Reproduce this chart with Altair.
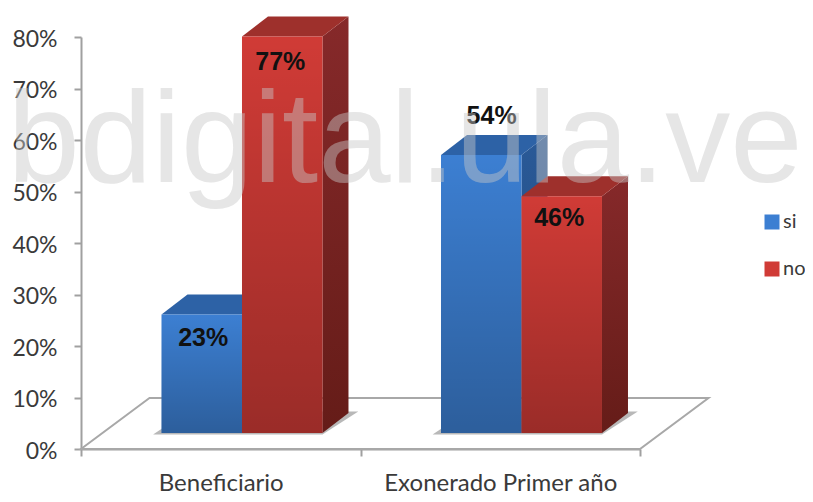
import altair as alt
import pandas as pd

categories = ["Beneficiario", "Exonerado Primer año"]
series = ["si", "no"]
si_values = [23, 54]
no_values = [77, 46]
percent_ticks = [0, 10, 20, 30, 40, 50, 60, 70, 80]
watermark = "bdigital.ula.ve"

# layout of the pseudo-3D scene, in axis units
BASE = 3.1
DX = 0.093
DY = 3.88
BAR_W = 0.288
START = 0.288
FLOOR_DX = 0.245
FLOOR_DY = 9.9
PW, PH = 559, 412

FRONT = {"si": "#3c7fd2", "no": "#d03b36"}
TOP = {"si": "#2d62a6", "no": "#9e302c"}
SIDE = {"si": ("#2a5a98", "#1f4678"), "no": ("#86292a", "#651c18")}
LABEL_SHIFT = {("si", 0): (0.005, -4.6), ("no", 0): (-0.007, -5.0), ("si", 1): (0.037, 7.6), ("no", 1): (-0.009, -4.3)}

rows = []
for s, vals in zip(series, [si_values, no_values]):
    for i, (c, v) in enumerate(zip(categories, vals)):
        x0 = i + START + series.index(s) * BAR_W
        rows.append(dict(series=s, cat=c, i=i, v=v, x0=x0, x1=x0 + BAR_W, y0=BASE, y1=BASE + v,
                         lx=x0 + BAR_W / 2 + LABEL_SHIFT[(s, i)][0], ly=BASE + v + LABEL_SHIFT[(s, i)][1],
                         label=f"{v}%"))
bars = pd.DataFrame(rows)

xs = alt.Scale(domain=[0, 2], nice=False, zero=False)
ys = alt.Scale(domain=[0, 80], nice=False, zero=False)
label_expr = f"datum.value == 0.5 ? '{categories[0]}' : datum.value == 1.5 ? '{categories[1]}' : ''"
x_axis = alt.Axis(values=[0, 0.5, 1, 1.5, 2], title=None, grid=False, labelExpr=label_expr, labelOverlap=False,
                  labelAngle=0, labelBound=False, labelFlush=False, labelLimit=400, tickSize=7, tickWidth=2, tickColor="#a0a0a0", domainColor="#a0a0a0", domainWidth=2,
                  labelFont="Lato", labelFontSize=24, labelColor="#3a3a3a", labelPadding=15,
                  tickOpacity={"condition": {"test": "datum.value == 0.5 || datum.value == 1.5", "value": 0}, "value": 1})
y_axis = alt.Axis(values=percent_ticks, title=None, grid=False, format="d", labelExpr="datum.value + '%'",
                  tickSize=7, tickWidth=2, tickColor="#a0a0a0", domainColor="#a0a0a0", domainWidth=2,
                  labelFont="Lato", labelFontSize=23, labelColor="#3a3a3a", labelPadding=17, labelOffset=2)

floor = pd.DataFrame([dict(x=0, x2=2, y=0, k=0), dict(x=FLOOR_DX, x2=2 + FLOOR_DX, y=FLOOR_DY, k=1)])
floor_layer = alt.Chart(floor).mark_area(orient="horizontal", fill="white", stroke="#a8a8a8", strokeWidth=2).encode(
    x=alt.X("x:Q", scale=xs, axis=x_axis), x2="x2:Q", y=alt.Y("y:Q", scale=ys, axis=y_axis))

shadow_rows = []
for _, r in bars[bars.series == "si"].iterrows():
    end = r.x0 + 2 * BAR_W
    shadow_rows += [dict(i=r.i, x=r.x0 - 0.03, x2=end, y=BASE - 0.3),
                    dict(i=r.i, x=r.x0 + DX, x2=end + DX + 0.035, y=BASE + DY + 0.3)]
shadow_layer = alt.Chart(pd.DataFrame(shadow_rows)).mark_area(orient="horizontal", color="#9a9a9a", opacity=0.7).encode(
    x=alt.X("x:Q", scale=xs), x2="x2:Q", y=alt.Y("y:Q", scale=ys), detail="i:N")


def grad(a, b):
    return alt.LinearGradient(gradient="linear", x1=0, y1=0, x2=0, y2=1,
                              stops=[alt.GradientStop(color=a, offset=0), alt.GradientStop(color=b, offset=1)])


layers = [floor_layer, shadow_layer]
color = alt.Color("series:N", scale=alt.Scale(domain=series, range=[FRONT[s] for s in series]),
                  legend=alt.Legend(title=None, orient="none", legendX=681, legendY=175, symbolType="square", symbolSize=225,
                                    symbolStrokeWidth=0, labelFont="Lato", labelFontSize=20, labelColor="#3a3a3a",
                                    rowPadding=27, labelOffset=1, padding=0))
for s in series:
    d = bars[bars.series == s]
    side, top = [], []
    for _, r in d.iterrows():
        side += [dict(i=r.i, x=r.x1, y=r.y0, y2=r.y1), dict(i=r.i, x=r.x1 + DX, y=r.y0 + DY, y2=r.y1 + DY)]
        top += [dict(i=r.i, x=r.x0, x2=r.x1, y=r.y1), dict(i=r.i, x=r.x0 + DX, x2=r.x1 + DX, y=r.y1 + DY)]
    layers.append(alt.Chart(pd.DataFrame(side)).mark_area(orient="vertical", color=grad(*SIDE[s])).encode(
        x=alt.X("x:Q", scale=xs), y=alt.Y("y:Q", scale=ys), y2="y2:Q", detail="i:N"))
    layers.append(alt.Chart(pd.DataFrame(top)).mark_area(orient="horizontal", color=TOP[s]).encode(
        x=alt.X("x:Q", scale=xs), x2="x2:Q", y=alt.Y("y:Q", scale=ys), detail="i:N"))
    layers.append(alt.Chart(d).mark_rect().encode(
        x=alt.X("x0:Q", scale=xs), x2="x1:Q", y=alt.Y("y0:Q", scale=ys), y2="y1:Q", color=color))
    layers.append(alt.Chart(d).mark_rect(color=alt.LinearGradient(
        gradient="linear", x1=0, y1=0, x2=0, y2=1,
        stops=[alt.GradientStop(color="rgba(0,0,0,0)", offset=0), alt.GradientStop(color="rgba(0,0,0,0.26)", offset=1)])).encode(
        x=alt.X("x0:Q", scale=xs), x2="x1:Q", y=alt.Y("y0:Q", scale=ys), y2="y1:Q"))

labels = alt.Chart(bars).mark_text(font="Liberation Sans", fontWeight="bold", fontSize=25, color="#111111").encode(
    x=alt.X("lx:Q", scale=xs), y=alt.Y("ly:Q", scale=ys), text="label:N")
layers.append(labels)

wm = alt.Chart(pd.DataFrame([dict(x=1.159, y=51.85, t=watermark)])).mark_text(
    font="Liberation Sans", fontSize=130, color="#c8c8c8", opacity=0.45, baseline="alphabetic", align="center").encode(
    x=alt.X("x:Q", scale=xs), y=alt.Y("y:Q", scale=ys), text="t:N")
layers.append(wm)

chart = alt.layer(*layers).properties(
    width=PW, height=PH,
    padding={"left": 73, "top": 29, "right": 165, "bottom": 45},
    autosize=alt.AutoSizeParams(type="none"),
    background="white",
).configure_view(stroke=None)

chart.save("out.html", embed_options={"renderer": "svg", "actions": False})
